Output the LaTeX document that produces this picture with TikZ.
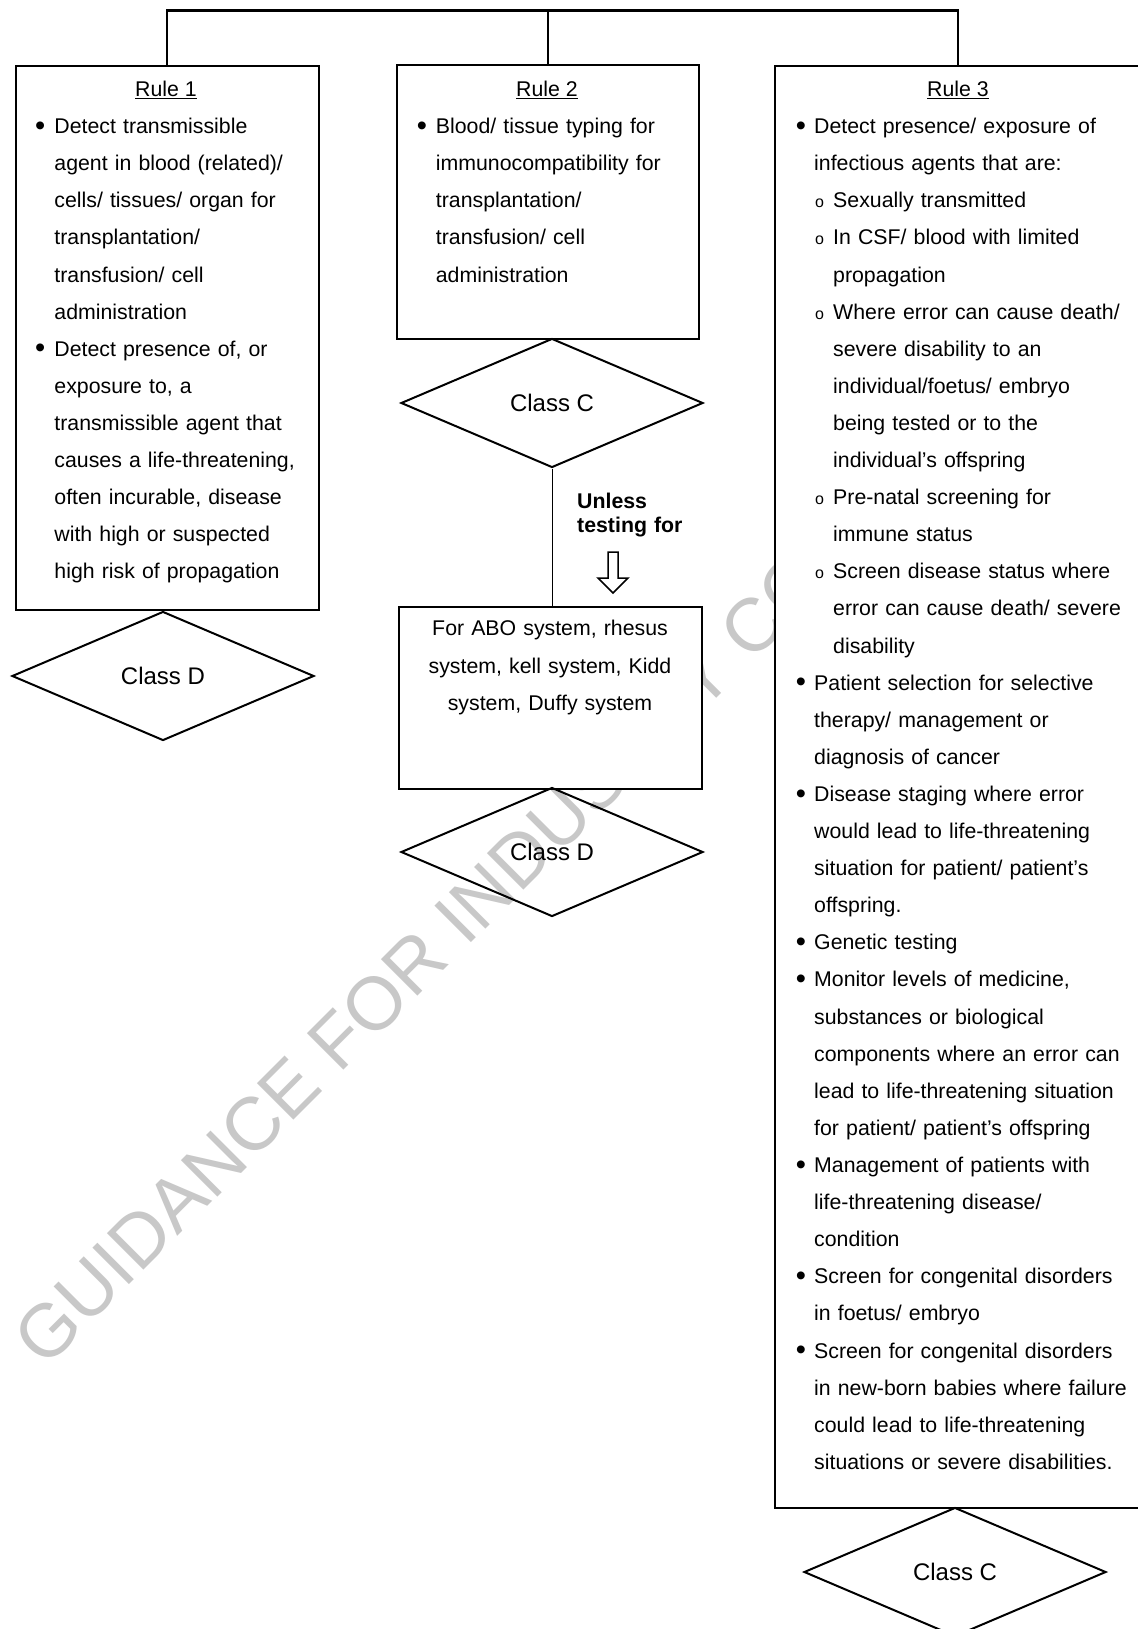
\documentclass[tikz,border=0pt]{standalone}
\usepackage{fontspec}
\setmainfont{Liberation Sans}
\usetikzlibrary{shapes.geometric}
\definecolor{wm}{RGB}{200,200,200}
\newcommand\bodyfont{\fontsize{21.3}{37.1}\selectfont}
\newcommand\xbul{\makebox[\bw][l]{\makebox[7.5pt][c]{\raisebox{-1.6pt}{\fontsize{29}{29}\selectfont •}}}\rule{0pt}{16pt}}
\newcommand\xcon{\hspace*{\bw}}
\newcommand\xsub{\hspace*{18pt}\makebox[18pt][l]{{\fontsize{16}{16}\selectfont o}}}
\newcommand\xsubcon{\hspace*{36pt}}
\begin{document}
\begin{tikzpicture}[x=1pt,y=-1pt,
  box/.style={draw, line width=2pt, fill=white, inner sep=0pt, anchor=north west},
  dia/.style={draw, diamond, line width=2pt, inner sep=0pt, minimum width=302pt, minimum height=129pt, font=\fontsize{24}{28}\selectfont},
  txt/.style={anchor=north west, inner sep=0pt, align=left, text width=#1, font=\bodyfont},
  ttl/.style={anchor=base, inner sep=0pt, font=\bodyfont},
  bus/.style={line width=2.2pt},
]
\useasboundingbox (0,0) rectangle (1137,1629);
\fill[white] (0,0) rectangle (1137,1629);
% watermark
\node[rotate=45, text=wm, font=\fontsize{75}{75}\selectfont, inner sep=0pt] (wmk) at (420,958) {GUIDANCE FOR INDUSTRY CO};
% boxes
\node[box, minimum width=303.5pt, minimum height=543.5pt] (r1) at (14.5,65.5) {};
\node[box, minimum width=302pt, minimum height=273.5pt] (r2) at (396,64.5) {};
\node[box, minimum width=365.4pt, minimum height=1441.5pt] (r3) at (774.3,65.5) {};
\node[box, minimum width=302.5pt, minimum height=182pt] (abo) at (398,606) {};
% bus
\coordinate (bus) at (547,10.5);
\draw[bus] (r1.north) |- (bus) -| (r3.north);
\draw[bus] (r2.north) -- (r2.north |- bus);
% diamonds
\node[dia] (d1) at (163,676) {Class D};
\node[dia] (c2) at (552,403) {Class C};
\node[dia] (d2) at (552,852) {Class D};
\node[dia] (c3) at (955,1572) {Class C};
% connector and arrow
\draw[line width=0.8pt] (c2.south) -- (c2.south |- abo.north);
\draw[line width=1.5pt] (608,552) -- (618,552) -- (618,578) -- (628,578) -- (613,593) -- (598,578) -- (608,578) -- cycle;
\node[anchor=north west, inner sep=0pt, align=left, text width=130pt, font=\bfseries\fontsize{21.3}{24}\selectfont] (unl) at (577,492) {\rule{0pt}{16pt}Unless\\testing for};
% titles
\node[ttl] (t1) at (166,97) {\underline{Rule 1}};
\node[ttl] (t2) at (547,97) {\underline{Rule 2}};
\node[ttl] (t3) at (958,97) {\underline{Rule 3}};
% rule 1 text
\node[txt=275pt] (b1) at (36.25,117.5) {\def\bw{18pt}%
\xbul Detect transmissible\\
\xcon agent in blood (related)/\\
\xcon cells/ tissues/ organ for\\
\xcon transplantation/\\
\xcon transfusion/ cell\\
\xcon administration\\
\xbul Detect presence of, or\\
\xcon exposure to, a\\
\xcon transmissible agent that\\
\xcon causes a life-threatening,\\
\xcon often incurable, disease\\
\xcon with high or suspected\\
\xcon high risk of propagation};
% rule 2 text
\node[txt=275pt] (b2) at (418,117.5) {\def\bw{17.7pt}%
\xbul Blood/ tissue typing for\\
\xcon immunocompatibility for\\
\xcon transplantation/\\
\xcon transfusion/ cell\\
\xcon administration};
% ABO text
\node[anchor=north, inner sep=0pt, align=center, text width=300pt, font=\fontsize{21.3}{37.4}\selectfont] (abot) at (550,619.5) {\rule{0pt}{16pt}For ABO system, rhesus\\system, kell system, Kidd\\system, Duffy system};
% rule 3 text
\node[txt=340pt] (b3) at (797,117.5) {\def\bw{17pt}%
\xbul Detect presence/ exposure of\\
\xcon infectious agents that are:\\
\xsub Sexually transmitted\\
\xsub In CSF/ blood with limited\\
\xsubcon propagation\\
\xsub Where error can cause death/\\
\xsubcon severe disability to an\\
\xsubcon individual/foetus/ embryo\\
\xsubcon being tested or to the\\
\xsubcon individual’s offspring\\
\xsub Pre-natal screening for\\
\xsubcon immune status\\
\xsub Screen disease status where\\
\xsubcon error can cause death/ severe\\
\xsubcon disability\\
\xbul Patient selection for selective\\
\xcon therapy/ management or\\
\xcon diagnosis of cancer\\
\xbul Disease staging where error\\
\xcon would lead to life-threatening\\
\xcon situation for patient/ patient’s\\
\xcon offspring.\\
\xbul Genetic testing\\
\xbul Monitor levels of medicine,\\
\xcon substances or biological\\
\xcon components where an error can\\
\xcon lead to life-threatening situation\\
\xcon for patient/ patient’s offspring\\
\xbul Management of patients with\\
\xcon life-threatening disease/\\
\xcon condition\\
\xbul Screen for congenital disorders\\
\xcon in foetus/ embryo\\
\xbul Screen for congenital disorders\\
\xcon in new-born babies where failure\\
\xcon could lead to life-threatening\\
\xcon situations or severe disabilities.};
\end{tikzpicture}
\end{document}
